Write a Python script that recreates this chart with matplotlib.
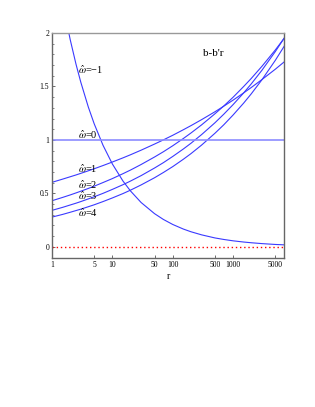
import matplotlib
matplotlib.use("Agg")
import matplotlib.pyplot as plt
from matplotlib.ticker import MultipleLocator, NullLocator

plt.rcParams["font.family"] = ["Liberation Serif", "DejaVu Serif"]
plt.rcParams["mathtext.fontset"] = "stix"

# values
r = [1, 1.5, 2, 2.5, 3, 4, 5, 7, 10, 15, 20, 30, 50, 70, 100, 150, 200, 300,
     500, 700, 1000, 1500, 2000, 3000, 5000, 7000]
w_m1 = [2.88, 2.286, 1.94, 1.708, 1.540, 1.307, 1.151, 0.950, 0.775, 0.615, 0.522, 0.414, 0.310,
        0.256, 0.209, 0.166, 0.141, 0.112, 0.083, 0.0688, 0.056, 0.0446, 0.038, 0.030, 0.022, 0.0185]
w_0 = [1.0] * len(r)
w_1 = [0.603, 0.633, 0.655, 0.672, 0.687, 0.711, 0.730, 0.760, 0.793, 0.832, 0.861, 0.904, 0.961,
       1.000, 1.043, 1.095, 1.133, 1.189, 1.263, 1.315, 1.372, 1.440, 1.490, 1.564, 1.661, 1.729]
w_2 = [0.431, 0.462, 0.485, 0.504, 0.520, 0.546, 0.567, 0.601, 0.638, 0.684, 0.718, 0.770, 0.840,
       0.889, 0.945, 1.013, 1.064, 1.140, 1.244, 1.317, 1.399, 1.500, 1.575, 1.688, 1.841, 1.950]
w_3 = [0.341, 0.369, 0.391, 0.408, 0.423, 0.448, 0.468, 0.500, 0.537, 0.581, 0.615, 0.666, 0.737,
       0.787, 0.845, 0.915, 0.968, 1.049, 1.160, 1.240, 1.330, 1.440, 1.524, 1.651, 1.826, 1.951]
w_4 = [0.278, 0.303, 0.323, 0.339, 0.352, 0.375, 0.393, 0.423, 0.457, 0.498, 0.530, 0.579, 0.646,
       0.695, 0.750, 0.819, 0.871, 0.951, 1.062, 1.141, 1.233, 1.345, 1.431, 1.562, 1.744, 1.875]

xticks = [1, 5, 10, 50, 100, 500, 1000, 5000]
yticks = [0, 0.5, 1, 1.5, 2]

fig = plt.figure(figsize=(3.15, 4.07), dpi=100)
ax = fig.add_axes([0.165, 0.366, 0.737, 0.553])

blue = "#3a3aff"
for ys in [w_m1, w_1, w_2, w_3, w_4]:
    ax.plot(r, ys, color=blue, lw=0.8)
ax.plot(r, w_0, color="#8c8cff", lw=1.2)
ax.axhline(0, color="red", lw=1.0, ls=(0, (1, 2)))

ax.set_xscale("log")
ax.set_xlim(1, 7000)
ax.set_ylim(-0.105, 2.0)

ax.set_xticks(xticks)
ax.set_xticklabels([str(t) for t in xticks])
ax.xaxis.set_minor_locator(NullLocator())
ax.set_yticks(yticks)
ax.set_yticklabels(["0", "0.5", "1", "1.5", "2"])
ax.yaxis.set_minor_locator(MultipleLocator(0.1))
ax.tick_params(which="both", direction="in", labelsize=5.5, pad=2, color="#555555")
ax.tick_params(which="major", length=2.5, width=0.6)
ax.tick_params(which="minor", length=1.5, width=0.5)

for s in ax.spines.values():
    s.set_color("#666666")
    s.set_linewidth(1.0)
ax.spines["top"].set_color("#999999")

ax.set_xlabel("r", fontsize=7, labelpad=2)

labels = [("-1", 1.656), ("0", 1.046), ("1", 0.731), ("2", 0.575), ("3", 0.472), ("4", 0.319)]
for txt, yv in labels:
    t = "\u2212" + txt[1:] if txt.startswith("-") else txt
    ax.text(2.68, yv, r"$\hat{\omega}$=" + t, fontsize=7.5, va="center", ha="left")

ax.text(475, 1.806, "b-b'r", fontsize=8, va="center", ha="center")

fig.savefig("out.png", dpi=100)
